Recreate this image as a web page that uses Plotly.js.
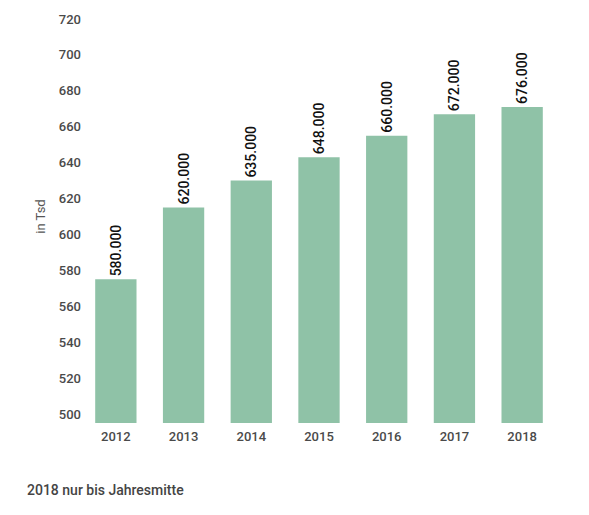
<!DOCTYPE html>
<html>
<head>
<meta charset="utf-8">
<script src="https://cdn.plot.ly/plotly-3.0.1.min.js"></script>
<style>
  html, body { margin: 0; padding: 0; background: #fff; }
  #chart { width: 589px; height: 515px; }
</style>
</head>
<body>
<div id="chart"></div>
<script>
// Data (values in Tsd)
const years = ['2012', '2013', '2014', '2015', '2016', '2017', '2018'];
const values = [580, 620, 635, 648, 660, 672, 676];
const valueLabels = ['580.000', '620.000', '635.000', '648.000', '660.000', '672.000', '676.000'];
// Tick labels as printed on the reference axis (they sit 5 units above their nominal value)
const yTickLabels = [500, 520, 540, 560, 580, 600, 620, 640, 660, 680, 700, 720];
const tickOffset = 5;

const trace = {
  type: 'bar',
  x: years,
  y: values,
  text: valueLabels,
  textposition: 'outside',
  textangle: -90,
  constraintext: 'none',
  cliponaxis: false,
  textfont: { family: 'Roboto', size: 14, color: '#111', weight: 500 },
  marker: { color: '#8fc2a7' },
  hoverinfo: 'none'
};

const layout = {
  width: 589,
  height: 515,
  margin: { l: 82, r: 33, t: 10, b: 92 },
  paper_bgcolor: '#fff',
  plot_bgcolor: '#fff',
  showlegend: false,
  bargap: 0.39,
  font: { family: 'Roboto', color: '#4a4a4a' },
  xaxis: {
    type: 'category',
    showgrid: false,
    zeroline: false,
    showline: false,
    ticks: '',
    ticklabelstandoff: 4,
    tickfont: { family: 'Roboto', size: 13, color: '#4a4a4a', weight: 500 }
  },
  yaxis: {
    range: [500, 730],
    tickvals: yTickLabels.map(v => v + tickOffset),
    ticktext: yTickLabels.map(String),
    showgrid: false,
    zeroline: false,
    showline: false,
    ticks: '',
    tickfont: { family: 'Roboto', size: 13, color: '#4a4a4a', weight: 500 },
    title: { text: 'in Tsd', font: { family: 'Roboto', size: 13, color: '#555' }, standoff: 10 }
  },
  annotations: [{
    text: '2018 nur bis Jahresmitte',
    xref: 'paper', yref: 'paper',
    x: -57 / 474, y: (423 - 490) / 413,
    xanchor: 'left', yanchor: 'middle',
    showarrow: false,
    font: { family: 'Roboto', size: 14, color: '#444', weight: 500 }
  }]
};

Plotly.newPlot('chart', [trace], layout, { displayModeBar: false, staticPlot: true });
</script>
</body>
</html>
